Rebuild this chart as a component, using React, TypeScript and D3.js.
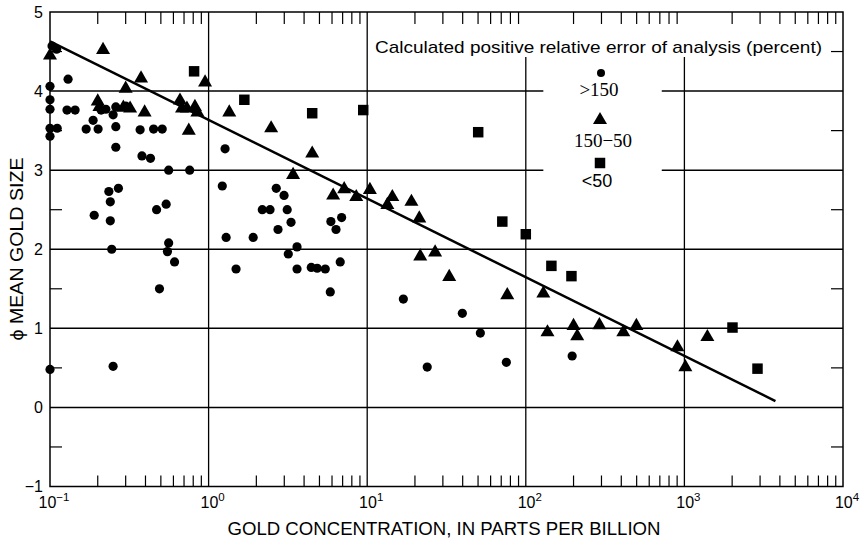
import { useEffect, useRef } from 'react';
import * as d3 from 'd3';

// gold concentration (ppb), phi mean gold size
// error > 150 percent
const highError: [number, number][] = [
  [0.103, 4.57], [0.11, 4.53], [0.13, 4.15],
  [0.1, 4.06], [0.1, 3.89], [0.1, 3.77], [0.1, 3.53], [0.111, 3.53], [0.1, 3.43],
  [0.128, 3.76], [0.144, 3.76], [0.187, 3.63], [0.169, 3.52], [0.201, 3.52],
  [0.21, 3.76], [0.225, 3.77], [0.25, 3.7], [0.26, 3.8], [0.3, 3.81],
  [0.26, 3.55], [0.26, 3.29], [0.37, 3.51], [0.45, 3.52], [0.51, 3.52],
  [0.38, 3.18], [0.43, 3.15], [0.56, 3.0], [0.76, 3.0],
  [0.235, 2.73], [0.27, 2.77], [0.24, 2.6], [0.19, 2.43], [0.24, 2.36],
  [0.47, 2.5], [0.54, 2.57], [0.245, 2.0], [0.56, 2.08], [0.55, 1.97],
  [0.61, 1.84], [0.49, 1.5], [0.1, 0.48], [0.25, 0.52],
  [1.27, 3.27], [1.22, 2.8], [2.67, 2.77], [2.99, 2.68],
  [2.18, 2.5], [2.44, 2.5], [3.13, 2.5], [3.31, 2.34], [2.74, 2.25],
  [1.29, 2.15], [1.91, 2.15], [3.61, 2.03], [3.18, 1.94], [1.49, 1.75],
  [3.61, 1.75], [4.44, 1.77], [4.84, 1.76], [5.44, 1.75], [6.76, 1.84],
  [5.85, 1.46], [5.9, 2.35], [6.9, 2.4], [6.36, 2.25],
  [16.9, 1.37], [39.8, 1.19], [51.7, 0.94], [23.9, 0.51], [75.4, 0.57], [196, 0.65]
];

// error 150 - 50 percent
const midError: [number, number][] = [
  [0.1, 4.45], [0.216, 4.52], [0.375, 4.16], [0.3, 4.03], [0.95, 4.11],
  [0.2, 3.87], [0.205, 3.8], [0.29, 3.79], [0.32, 3.78], [0.395, 3.73], [0.75, 3.5],
  [0.66, 3.88], [0.68, 3.78], [0.73, 3.78], [0.82, 3.8], [0.85, 3.73],
  [1.35, 3.73], [2.48, 3.53], [4.5, 3.21], [3.41, 2.94],
  [6.1, 2.68], [7.16, 2.76], [8.53, 2.66], [10.4, 2.75], [14.4, 2.66],
  [13.4, 2.56], [19.0, 2.6], [21.3, 2.39], [21.6, 1.91], [26.8, 1.96],
  [32.9, 1.65], [76.4, 1.42],
  [129, 1.44], [137, 0.95], [200, 1.03], [211, 0.9], [291, 1.04],
  [412, 0.95], [498, 1.03], [904, 0.76], [1014, 0.51], [1396, 0.89]
];

// error < 50 percent
const lowError: [number, number][] = [
  [0.81, 4.25], [1.68, 3.89], [4.5, 3.72], [9.44, 3.76], [50.1, 3.48],
  [71.1, 2.35], [100, 2.19], [145, 1.79], [194, 1.66], [2010, 1.01], [2890, 0.49]
];

const fitLine: [number, number][] = [[0.1, 4.63], [3750, 0.08]];

const yTicks = [-1, 0, 1, 2, 3, 4, 5];
const yGrid = [0, 1, 2, 3, 4];
const yMinor = [-0.5, 0.5, 1.5, 2.5, 3.5, 4.5];
const xDecades = [-1, 0, 1, 2, 3, 4];
const xGrid = [1, 10, 100, 1000];
const legendGap = [129, 720]; // grid lines 3 and 4 broken around legend
const legendTop = 4.43; // grid lines 10^2, 10^3 stop under legend title

const FONT = 'Liberation Sans, Arial, Helvetica, sans-serif';

const renderChart = (node: SVGSVGElement) => {
  const svg = d3.select(node);
  svg.selectAll('*').remove();

  const x = d3.scaleLog().domain([0.1, 10000]).range([50, 843]);
  const y = d3.scaleLinear().domain([-1, 5]).range([486.5, 12]);

  const g = svg.append('g');

  // grid lines
  yGrid.forEach(v => {
    if (v === 3 || v === 4) {
      g.append('line').attr('x1', x(0.1)).attr('x2', x(legendGap[0]))
        .attr('y1', y(v)).attr('y2', y(v)).attr('stroke', '#000').attr('stroke-width', 1.5);
      g.append('line').attr('x1', x(legendGap[1])).attr('x2', x(10000))
        .attr('y1', y(v)).attr('y2', y(v)).attr('stroke', '#000').attr('stroke-width', 1.5);
    } else {
      g.append('line').attr('x1', x(0.1)).attr('x2', x(10000))
        .attr('y1', y(v)).attr('y2', y(v)).attr('stroke', '#000').attr('stroke-width', 1.5);
    }
  });
  xGrid.forEach(v => {
    const top = v >= 100 ? legendTop : 5;
    g.append('line').attr('x1', x(v)).attr('x2', x(v))
      .attr('y1', y(top)).attr('y2', y(-1)).attr('stroke', '#000').attr('stroke-width', 1.3);
  });

  // frame
  g.append('rect').attr('x', x(0.1)).attr('y', y(5))
    .attr('width', x(10000) - x(0.1)).attr('height', y(-1) - y(5))
    .attr('fill', 'none').attr('stroke', '#000').attr('stroke-width', 1.5);

  // minor ticks
  const minorX: number[] = [];
  xDecades.slice(0, -1).forEach(d => {
    for (let m = 2; m <= 9; m++) minorX.push(m * Math.pow(10, d));
  });
  minorX.forEach(v => {
    g.append('line').attr('x1', x(v)).attr('x2', x(v)).attr('y1', y(-1)).attr('y2', y(-1) - 11)
      .attr('stroke', '#000').attr('stroke-width', 1.2);
    g.append('line').attr('x1', x(v)).attr('x2', x(v)).attr('y1', y(5)).attr('y2', y(5) + 12)
      .attr('stroke', '#000').attr('stroke-width', 1.2);
  });
  yMinor.forEach(v => {
    g.append('line').attr('x1', x(0.1)).attr('x2', x(0.1) + 12).attr('y1', y(v)).attr('y2', y(v))
      .attr('stroke', '#000').attr('stroke-width', 1.2);
    g.append('line').attr('x1', x(10000)).attr('x2', x(10000) - 12).attr('y1', y(v)).attr('y2', y(v))
      .attr('stroke', '#000').attr('stroke-width', 1.2);
  });

  // tick labels
  g.selectAll('.ylab').data(yTicks).enter().append('text')
    .attr('x', 43).attr('y', d => y(d) + 5.5)
    .attr('text-anchor', 'end').attr('font-family', FONT).attr('font-size', 16)
    .text(d => (d < 0 ? '\u2212' + Math.abs(d) : String(d)));

  xDecades.forEach(d => {
    const t = g.append('text').attr('x', x(Math.pow(10, d)) + 4).attr('y', 508)
      .attr('text-anchor', 'middle').attr('font-family', FONT).attr('font-size', 16);
    t.append('tspan').text('10');
    t.append('tspan').attr('dy', -7).attr('font-size', 11.5)
      .text(d < 0 ? '\u2212' + Math.abs(d) : String(d));
  });

  // axis titles
  g.append('text').attr('x', 444).attr('y', 535).attr('text-anchor', 'middle')
    .attr('font-family', FONT).attr('font-size', 18)
    .attr('textLength', 433).attr('lengthAdjust', 'spacingAndGlyphs')
    .text('GOLD CONCENTRATION, IN PARTS PER BILLION');
  g.append('text').attr('transform', 'translate(23,249) rotate(-90)').attr('text-anchor', 'middle')
    .attr('font-family', FONT).attr('font-size', 19)
    .attr('textLength', 183).attr('lengthAdjust', 'spacingAndGlyphs')
    .text('\u03D5 MEAN GOLD SIZE');

  // fit line
  const line = d3.line<[number, number]>().x(d => x(d[0])).y(d => y(d[1]));
  g.append('path').attr('d', line(fitLine)).attr('fill', 'none')
    .attr('stroke', '#000').attr('stroke-width', 2.5);

  // points
  g.append('g').selectAll('circle').data(highError).enter().append('circle')
    .attr('cx', d => x(d[0])).attr('cy', d => y(d[1])).attr('r', 4.6).attr('fill', '#000');
  const tri = d3.symbol().type(d3.symbolTriangle).size(85);
  g.append('g').selectAll('path').data(midError).enter().append('path')
    .attr('d', tri()).attr('transform', d => `translate(${x(d[0])},${y(d[1])})`).attr('fill', '#000');
  const sq = d3.symbol().type(d3.symbolSquare).size(110);
  g.append('g').selectAll('path').data(lowError).enter().append('path')
    .attr('d', sq()).attr('transform', d => `translate(${x(d[0])},${y(d[1])})`).attr('fill', '#000');

  // legend
  g.append('text').attr('x', 375).attr('y', 53).attr('font-family', FONT).attr('font-size', 17)
    .attr('textLength', 447).attr('lengthAdjust', 'spacingAndGlyphs')
    .text('Calculated positive relative error of analysis (percent)');
  g.append('circle').attr('cx', 601).attr('cy', 73).attr('r', 4).attr('fill', '#000');
  g.append('text').attr('x', 599).attr('y', 96).attr('text-anchor', 'middle')
    .attr('font-family', 'Liberation Serif, Times New Roman, serif').attr('font-size', 19).text('>150');
  g.append('path').attr('d', tri()).attr('transform', 'translate(600,120)').attr('fill', '#000');
  g.append('text').attr('x', 603).attr('y', 147).attr('text-anchor', 'middle')
    .attr('font-family', 'Liberation Serif, Times New Roman, serif').attr('font-size', 19).text('150\u221250');
  g.append('path').attr('d', sq()).attr('transform', 'translate(600,163)').attr('fill', '#000');
  g.append('text').attr('x', 597).attr('y', 187).attr('text-anchor', 'middle')
    .attr('font-family', FONT).attr('font-size', 18).text('<50');
};

const App = () => {
  const ref = useRef<SVGSVGElement>(null);
  useEffect(() => {
    if (ref.current) renderChart(ref.current);
  }, []);
  return (
    <svg ref={ref} width={865} height={541}
      style={{ position: 'absolute', left: 0, top: 0, background: '#fff' }} />
  );
};

export default App;
